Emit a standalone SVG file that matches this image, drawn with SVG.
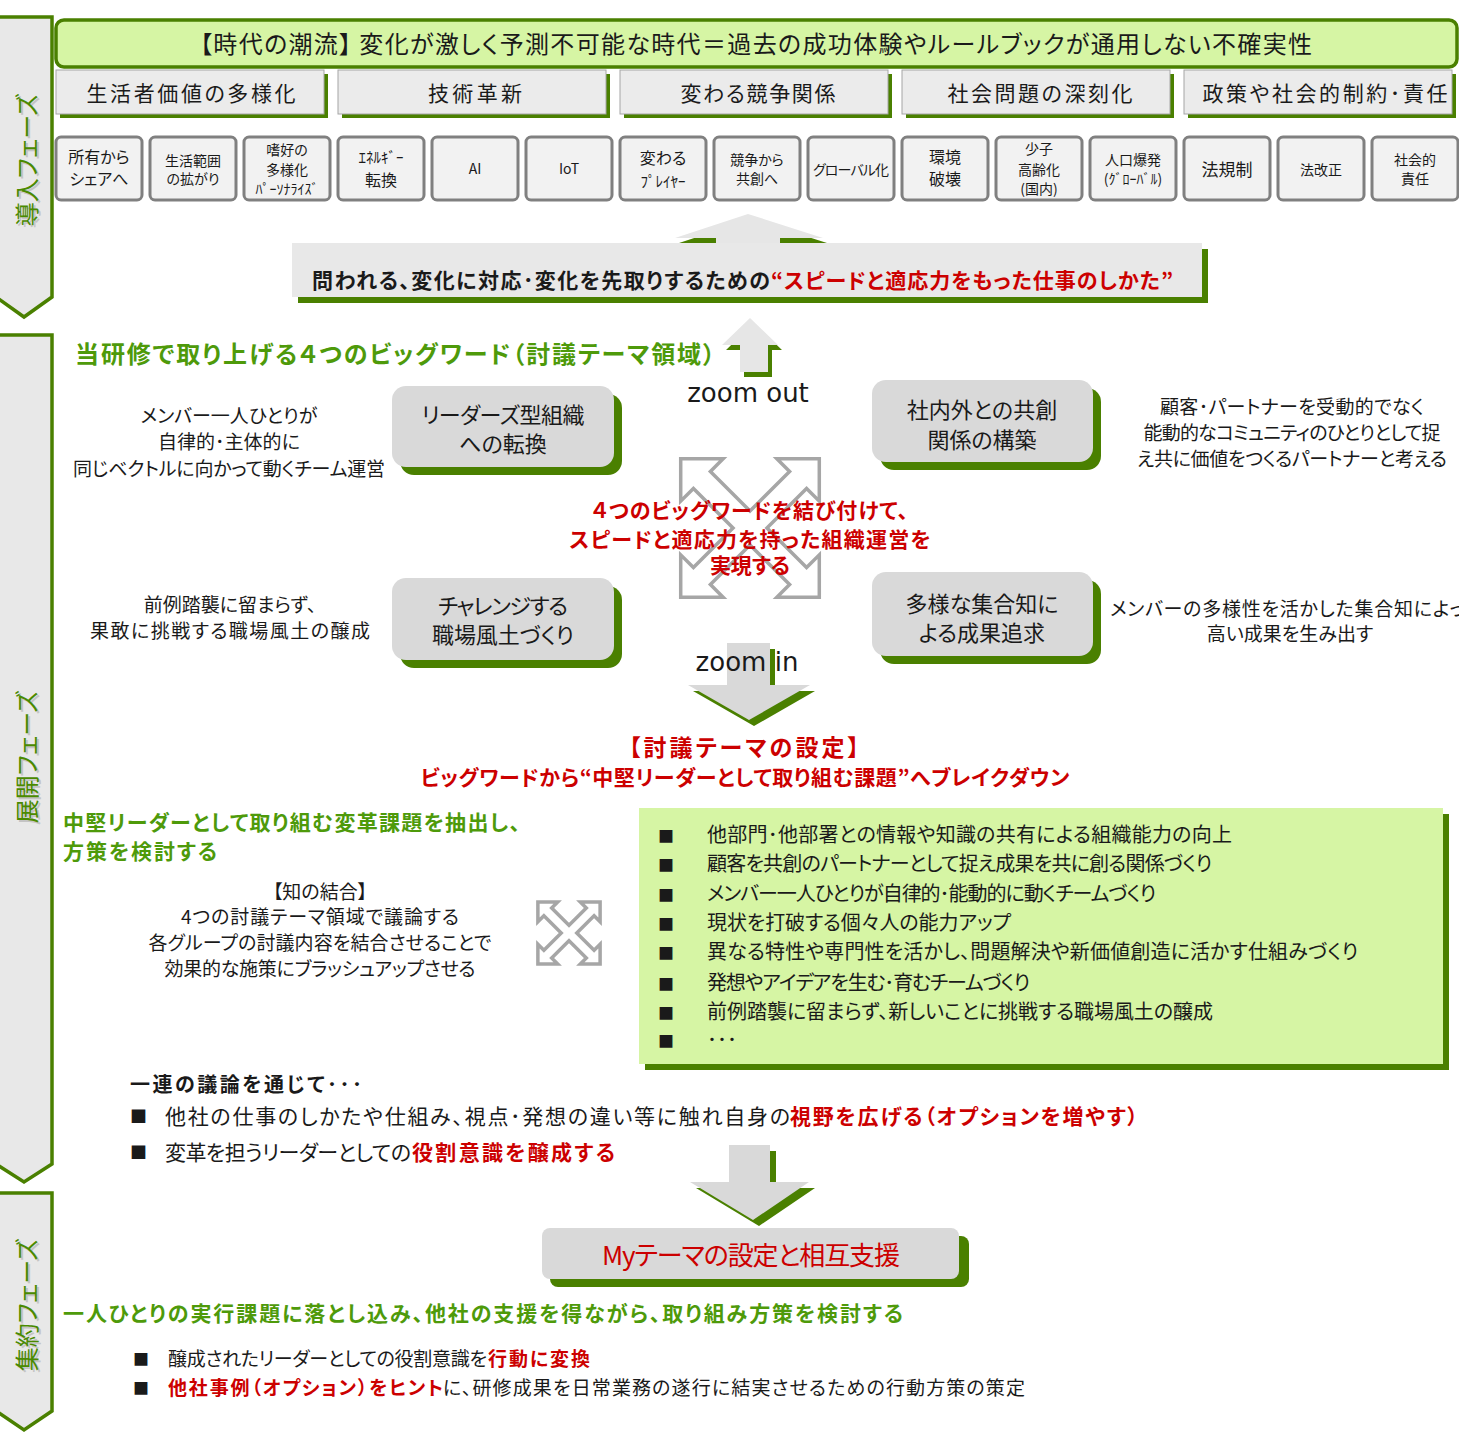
<svg xmlns="http://www.w3.org/2000/svg" width="1459" height="1442" viewBox="0 0 1459 1442">
<defs>
<style>
text{font-family:"Noto Sans CJK JP","Noto Sans",sans-serif;font-feature-settings:"palt";fill:#1a1a1a}
.b{font-weight:bold}
.red{fill:#cc0000}
.grn{fill:#4e9a0a}
.mid{text-anchor:middle}
.phase{fill:#e8e8e8;stroke:#4a8000;stroke-width:3.5}
.ptxt{fill:#4a8a00;font-size:24px;text-anchor:middle;dominant-baseline:central}
.psh{fill:#999;opacity:0.45;font-size:24px;text-anchor:middle;dominant-baseline:central}
.cat{fill:#ebebeb;stroke:#a6a6a6;stroke-width:1}
.gsh{fill:#4a8000}
.sb{fill:#f2f2f2;stroke:#808080;stroke-width:3}
.node{fill:#d9d9d9}
.arw{fill:#e6e6e6}
.arwd{fill:#d9d9d9}
.cross{fill:#fff;stroke:#a6a6a6;stroke-width:3.5;stroke-linejoin:miter}
.en{font-family:"DejaVu Sans",sans-serif;font-feature-settings:normal;font-size:26px;text-anchor:middle}
.st{font-size:14px;text-anchor:middle}
</style>
</defs>
<rect width="1459" height="1442" fill="#fff"/>

<g id="phase-intro">
<polygon class="phase" points="-4,17 52,17 52,297 24,317 -4,297"/>
<text class="psh" transform="rotate(-90 27 162)" x="27" y="162">導入フェーズ</text>
<text class="ptxt" transform="rotate(-90 25 160)" x="25" y="160">導入フェーズ</text>
</g>
<g id="phase-develop">
<polygon class="phase" points="-4,335 52,335 52,1164 24,1182 -4,1164"/>
<text class="psh" transform="rotate(-90 27 759)" x="27" y="759">展開フェーズ</text>
<text class="ptxt" transform="rotate(-90 25 757)" x="25" y="757">展開フェーズ</text>
</g>
<g id="phase-summary">
<polygon class="phase" points="-4,1193 52,1193 52,1411 24,1430 -4,1411"/>
<text class="psh" transform="rotate(-90 27 1307)" x="27" y="1307">集約フェーズ</text>
<text class="ptxt" transform="rotate(-90 25 1305)" x="25" y="1305">集約フェーズ</text>
</g>

<g id="banner">
<rect x="56" y="20" width="1401" height="47" rx="8" fill="#d6f5a4" stroke="#4a8000" stroke-width="3.5"/>
<text class="mid" x="756" y="53" font-size="24" textLength="1112">【時代の潮流】 変化が激しく予測不可能な時代＝過去の成功体験やルールブックが通用しない不確実性</text>
</g>

<g id="categories" font-size="21">
<g id="cat1"><rect class="gsh" x="60" y="74" width="268" height="44"/><rect class="cat" x="56" y="70" width="268" height="44"/><text class="mid" x="191" y="101" textLength="209">生活者価値の多様化</text></g>
<g id="cat2"><rect class="gsh" x="342" y="74" width="268" height="44"/><rect class="cat" x="338" y="70" width="268" height="44"/><text class="mid" x="475" y="101" textLength="94">技術革新</text></g>
<g id="cat3"><rect class="gsh" x="624" y="74" width="268" height="44"/><rect class="cat" x="620" y="70" width="268" height="44"/><text class="mid" x="758" y="101" textLength="155">変わる競争関係</text></g>
<g id="cat4"><rect class="gsh" x="906" y="74" width="268" height="44"/><rect class="cat" x="902" y="70" width="268" height="44"/><text class="mid" x="1040" y="101" textLength="185">社会問題の深刻化</text></g>
<g id="cat5"><rect class="gsh" x="1188" y="74" width="268" height="44"/><rect class="cat" x="1184" y="70" width="268" height="44"/><text class="mid" x="1325" y="101" textLength="245">政策や社会的制約･責任</text></g>
</g>

<g id="small-boxes">
<g id="s1"><rect class="sb" x="56" y="137" width="86" height="63" rx="5"/><text class="mid" x="99" y="163" font-size="16">所有から</text><text class="mid" x="99" y="185" font-size="16">シェアへ</text></g>
<g id="s2"><rect class="sb" x="150" y="137" width="86" height="63" rx="5"/><text class="st" x="193" y="166">生活範囲</text><text class="st" x="193" y="184">の拡がり</text></g>
<g id="s3"><rect class="sb" x="244" y="137" width="86" height="63" rx="5"/><text class="st" x="287" y="155">嗜好の</text><text class="st" x="287" y="175">多様化</text><text class="st" x="287" y="194" font-size="13">ﾊﾟｰｿﾅﾗｲｽﾞ</text></g>
<g id="s4"><rect class="sb" x="338" y="137" width="86" height="63" rx="5"/><text class="mid" x="381" y="163" font-size="15">ｴﾈﾙｷﾞｰ</text><text class="mid" x="381" y="186" font-size="16">転換</text></g>
<g id="s5"><rect class="sb" x="432" y="137" width="86" height="63" rx="5"/><text class="st" x="475" y="174">AI</text></g>
<g id="s6"><rect class="sb" x="526" y="137" width="86" height="63" rx="5"/><text class="st" x="569" y="174">IoT</text></g>
<g id="s7"><rect class="sb" x="620" y="137" width="86" height="63" rx="5"/><text class="mid" x="663" y="164" font-size="16">変わる</text><text class="mid" x="663" y="187" font-size="15">ﾌﾟﾚｲﾔｰ</text></g>
<g id="s8"><rect class="sb" x="714" y="137" width="86" height="63" rx="5"/><text class="st" x="757" y="165" font-size="13">競争から</text><text class="st" x="757" y="184" font-size="13">共創へ</text></g>
<g id="s9"><rect class="sb" x="808" y="137" width="86" height="63" rx="5"/><text class="st" x="851" y="175" font-size="13" textLength="76">グローバル化</text></g>
<g id="s10"><rect class="sb" x="902" y="137" width="86" height="63" rx="5"/><text class="mid" x="945" y="163" font-size="16">環境</text><text class="mid" x="945" y="185" font-size="16">破壊</text></g>
<g id="s11"><rect class="sb" x="996" y="137" width="86" height="63" rx="5"/><text class="st" x="1039" y="154" font-size="13">少子</text><text class="st" x="1039" y="175" font-size="13">高齢化</text><text class="st" x="1039" y="194" font-size="13">(国内)</text></g>
<g id="s12"><rect class="sb" x="1090" y="137" width="86" height="63" rx="5"/><text class="st" x="1133" y="165" font-size="13">人口爆発</text><text class="st" x="1133" y="184" font-size="13">(ｸﾞﾛｰﾊﾞﾙ)</text></g>
<g id="s13"><rect class="sb" x="1184" y="137" width="86" height="63" rx="5"/><text class="mid" x="1227" y="176" font-size="17">法規制</text></g>
<g id="s14"><rect class="sb" x="1278" y="137" width="86" height="63" rx="5"/><text class="st" x="1321" y="175">法改正</text></g>
<g id="s15"><rect class="sb" x="1372" y="137" width="86" height="63" rx="5"/><text class="st" x="1415" y="165" font-size="13">社会的</text><text class="st" x="1415" y="184" font-size="13">責任</text></g>
</g>

<g id="connectors">
<g id="arrow-up-big">
<polygon class="gsh" points="752,219 827,243 784,243 784,260 720,260 720,243 679,243"/>
<polygon class="arw" points="748,214 823,238 780,238 780,255 716,255 716,238 675,238"/>
</g>
<g id="arrow-up-zoomout">
<polygon class="gsh" points="754,323 782,350 772,350 772,377 744,377 744,350 726,350"/>
<polygon class="arw" points="750,318 778,345 768,345 768,372 740,372 740,345 722,345"/>
</g>
<g id="arrow-down-zoomin">
<polygon class="gsh" points="732,649 775,649 775,691 815,691 754,726 693,691 732,691"/>
<polygon class="arwd" points="727,643 770,643 770,685 810,685 749,720 688,685 727,685"/>
</g>
<g id="arrow-down-mytheme">
<polygon class="gsh" points="735,1151 776,1151 776,1188 815,1188 759,1226 696,1188 735,1188"/>
<polygon class="arwd" points="729,1145 770,1145 770,1182 809,1182 753,1220 690,1182 729,1182"/>
</g>
<g id="cross-center">
<g transform="translate(750 528) rotate(45)">
<path class="cross" d="M12,-12 L68,-12 L68,-30 L98,0 L68,30 L68,12 L12,12 L12,68 L30,68 L0,98 L-30,68 L-12,68 L-12,12 L-68,12 L-68,30 L-98,0 L-68,-30 L-68,-12 L-12,-12 L-12,-68 L-30,-68 L0,-98 L30,-68 L12,-68 Z"/>
</g>
</g>
<g id="cross-small">
<g transform="translate(569 933) rotate(45)">
<path class="cross" stroke-width="3" d="M5.5,-5.5 L30,-5.5 L30,-14 L44,0 L30,14 L30,5.5 L5.5,5.5 L5.5,30 L14,30 L0,44 L-14,30 L-5.5,30 L-5.5,5.5 L-30,5.5 L-30,14 L-44,0 L-30,-14 L-30,-5.5 L-5.5,-5.5 L-5.5,-30 L-14,-30 L0,-44 L14,-30 L5.5,-30 Z"/>
</g>
</g>
</g>

<g id="question">
<rect class="gsh" x="298" y="249" width="910" height="54"/>
<rect fill="#e8e8e8" x="292" y="243" width="910" height="54"/>
<text class="b" x="312" y="288" font-size="21" textLength="458">問われる、変化に対応･変化を先取りするための</text>
<text class="b red" x="771" y="288" font-size="21" textLength="402">“スピードと適応力をもった仕事のしかた”</text>
</g>

<text class="b grn" x="75" y="363" font-size="24" textLength="640">当研修で取り上げる４つのビッグワード（討議テーマ領域）</text>
<text class="en" x="748" y="402">zoom out</text>

<g id="node-leaders">
<rect class="gsh" x="400" y="394" width="222" height="81" rx="14"/>
<rect class="node" x="392" y="386" width="222" height="81" rx="14"/>
<text class="mid" x="503" y="423" font-size="22" textLength="163">リーダーズ型組織</text>
<text class="mid" x="503" y="452" font-size="22">への転換</text>
</g>
<g id="node-cocreation">
<rect class="gsh" x="880" y="388" width="221" height="82" rx="14"/>
<rect class="node" x="872" y="380" width="221" height="82" rx="14"/>
<text class="mid" x="982" y="418" font-size="22">社内外との共創</text>
<text class="mid" x="982" y="448" font-size="22">関係の構築</text>
</g>
<g id="node-challenge">
<rect class="gsh" x="400" y="586" width="222" height="82" rx="14"/>
<rect class="node" x="392" y="578" width="222" height="82" rx="14"/>
<text class="mid" x="503" y="614" font-size="22" textLength="130">チャレンジする</text>
<text class="mid" x="503" y="643" font-size="22" textLength="142">職場風土づくり</text>
</g>
<g id="node-diversity">
<rect class="gsh" x="880" y="580" width="221" height="84" rx="14"/>
<rect class="node" x="872" y="572" width="221" height="84" rx="14"/>
<text class="mid" x="982" y="612" font-size="22">多様な集合知に</text>
<text class="mid" x="982" y="641" font-size="22">よる成果追求</text>
</g>

<g id="desc" font-size="19">
<text class="mid" x="229" y="423">メンバー一人ひとりが</text>
<text class="mid" x="229" y="449">自律的･主体的に</text>
<text class="mid" x="229" y="476" textLength="312">同じベクトルに向かって動くチーム運営</text>
<text class="mid" x="1292" y="414" textLength="264">顧客･パートナーを受動的でなく</text>
<text class="mid" x="1292" y="440" textLength="297">能動的なコミュニティのひとりとして捉</text>
<text class="mid" x="1292" y="466" textLength="310">え共に価値をつくるパートナーと考える</text>
<text class="mid" x="230" y="612">前例踏襲に留まらず、</text>
<text class="mid" x="230" y="638" textLength="280">果敢に挑戦する職場風土の醸成</text>
<text x="1110" y="616" textLength="372">メンバーの多様性を活かした集合知によって</text>
<text class="mid" x="1290" y="641">高い成果を生み出す</text>
</g>

<g id="center-msg" class="b red" font-size="21">
<text class="mid red" x="750" y="518" textLength="316">４つのビッグワードを結び付けて、</text>
<text class="mid red" x="750" y="547" textLength="361">スピードと適応力を持った組織運営を</text>
<text class="mid red" x="750" y="573">実現する</text>
</g>

<text class="en" x="747" y="671">zoom in</text>

<text class="b red mid" x="744" y="756" font-size="23" textLength="230">【討議テーマの設定】</text>
<text class="b red mid" x="745" y="785" font-size="21" textLength="649">ビッグワードから“中堅リーダーとして取り組む課題”へブレイクダウン</text>

<text class="b grn" x="63" y="830" font-size="21" textLength="457">中堅リーダーとして取り組む変革課題を抽出し、</text>
<text class="b grn" x="63" y="859" font-size="21" textLength="154">方策を検討する</text>

<g id="knowledge" font-size="19">
<text class="mid" x="320" y="899">【知の結合】</text>
<text class="mid" x="320" y="924" textLength="278">4つの討議テーマ領域で議論する</text>
<text class="mid" x="320" y="950" textLength="343">各グループの討議内容を結合させることで</text>
<text class="mid" x="320" y="976" textLength="311">効果的な施策にブラッシュアップさせる</text>
</g>

<g id="theme-list">
<rect class="gsh" x="645" y="814" width="804" height="256"/>
<rect fill="#d6f5a4" x="639" y="808" width="804" height="256"/>
<g font-size="20">
<text x="658" y="842" font-size="16">■</text><text x="707" y="842" textLength="525">他部門･他部署との情報や知識の共有による組織能力の向上</text>
<text x="658" y="871" font-size="16">■</text><text x="707" y="871" textLength="505">顧客を共創のパートナーとして捉え成果を共に創る関係づくり</text>
<text x="658" y="901" font-size="16">■</text><text x="707" y="901" textLength="449">メンバー一人ひとりが自律的･能動的に動くチームづくり</text>
<text x="658" y="930" font-size="16">■</text><text x="707" y="930" textLength="304">現状を打破する個々人の能力アップ</text>
<text x="658" y="959" font-size="16">■</text><text x="707" y="959" textLength="651">異なる特性や専門性を活かし、問題解決や新価値創造に活かす仕組みづくり</text>
<text x="658" y="990" font-size="16">■</text><text x="707" y="990" textLength="323">発想やアイデアを生む･育むチームづくり</text>
<text x="658" y="1019" font-size="16">■</text><text x="707" y="1019" textLength="506">前例踏襲に留まらず、新しいことに挑戦する職場風土の醸成</text>
<text x="658" y="1047" font-size="16">■</text><text x="707" y="1047">･･･</text>
</g>
</g>

<g id="through" font-size="21">
<text class="b" x="130" y="1092" font-size="20" textLength="232">一連の議論を通じて･･･</text>
<text x="130" y="1123" font-size="17">■</text>
<text x="165" y="1124" textLength="625">他社の仕事のしかたや仕組み、視点･発想の違い等に触れ自身の</text>
<text class="b red" x="790" y="1124" textLength="348">視野を広げる（オプションを増やす）</text>
<text x="130" y="1159" font-size="17">■</text>
<text x="165" y="1160" textLength="246">変革を担うリーダーとしての</text>
<text class="b red" x="412" y="1160" textLength="203">役割意識を醸成する</text>
</g>

<g id="node-mytheme">
<rect class="gsh" x="550" y="1236" width="419" height="51" rx="8"/>
<rect class="node" x="542" y="1228" width="417" height="51" rx="8"/>
<text class="red mid" x="751" y="1265" font-size="26" textLength="298">Myテーマの設定と相互支援</text>
</g>

<text class="b grn" x="63" y="1321" font-size="21" textLength="840">一人ひとりの実行課題に落とし込み、他社の支援を得ながら、取り組み方策を検討する</text>

<g id="summary" font-size="19">
<text x="133" y="1365" font-size="16">■</text>
<text x="168" y="1366" textLength="319">醸成されたリーダーとしての役割意識を</text>
<text class="b red" x="488" y="1366" textLength="102">行動に変換</text>
<text x="133" y="1394" font-size="16">■</text>
<text class="b red" x="168" y="1395" textLength="275">他社事例（オプション）をヒント</text>
<text x="443" y="1395" textLength="582">に、研修成果を日常業務の遂行に結実させるための行動方策の策定</text>
</g>
</svg>
